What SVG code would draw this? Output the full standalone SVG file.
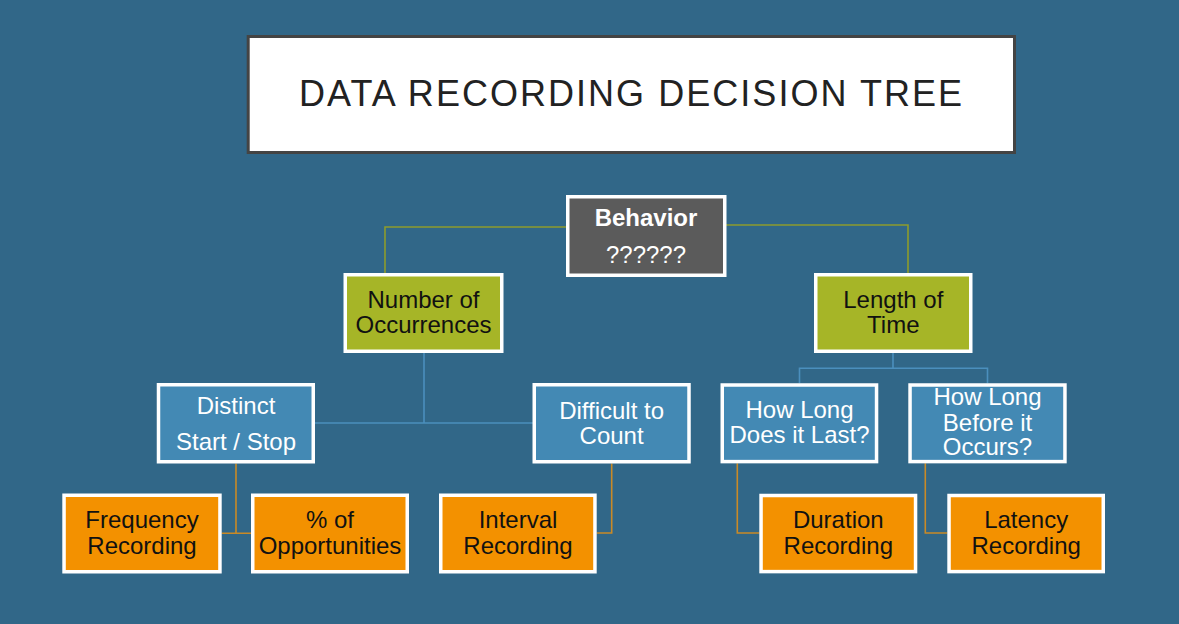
<svg xmlns="http://www.w3.org/2000/svg" width="1179" height="624" viewBox="0 0 1179 624">
<style>
.bg{fill:#316788}
.box{stroke:#ffffff;stroke-width:3.5}
.gray{fill:#5b5b5b}
.green{fill:#a6b527}
.blue{fill:#4389b4}
.orange{fill:#f39100}
.t{font-family:"Liberation Sans",Arial,sans-serif;font-size:24px;text-anchor:middle}
.dark{fill:#111111}
.light{fill:#ffffff}
.cg{stroke:#8d9c2c;stroke-width:1.6;fill:none}
.cb{stroke:#4b8fbd;stroke-width:1.6;fill:none}
.co{stroke:#c98a26;stroke-width:1.6;fill:none}
</style>
<rect class="bg" x="0" y="0" width="1179" height="624"/>
<g id="title">
<rect x="248.2" y="36.5" width="766.3" height="116" fill="#ffffff" stroke="#444444" stroke-width="3"/>
<text x="630.5" y="106" font-family="'Liberation Sans',Arial,sans-serif" font-size="36" fill="#222222" text-anchor="middle" textLength="663" lengthAdjust="spacing">DATA RECORDING DECISION TREE</text>
</g>
<g id="connectors">
<path class="cg" d="M566 227 H385 V273"/>
<path class="cg" d="M726 225 H908 V273"/>
<path class="cb" d="M424 353 V423"/>
<path class="cb" d="M315 423 H533"/>
<path class="cb" d="M893 353 V368.3 M799.5 383.3 V368.3 H987.5 V383.3"/>
<path class="co" d="M236 463.5 V533.3 M221.7 533.3 H251"/>
<path class="co" d="M611.7 463.5 V533 H596.7"/>
<path class="co" d="M737.3 463.3 V533 H759.3"/>
<path class="co" d="M925.3 463.3 V533 H947.3"/>
</g>
<g id="behavior">
<rect class="box gray" x="567.75" y="196.75" width="157" height="78.5"/>
<text class="t light" x="646" y="226" font-weight="bold">Behavior</text>
<text class="t light" x="646" y="263">??????</text>
</g>
<g id="number">
<rect class="box green" x="345.25" y="274.75" width="156.5" height="76.5"/>
<text class="t dark" x="423.5" y="308">Number of</text>
<text class="t dark" x="423.5" y="333">Occurrences</text>
</g>
<g id="length">
<rect class="box green" x="815.75" y="274.75" width="155" height="76.5"/>
<text class="t dark" x="893.3" y="308">Length of</text>
<text class="t dark" x="893.3" y="333">Time</text>
</g>
<g id="distinct">
<rect class="box blue" x="158.5" y="384.75" width="154.75" height="77"/>
<text class="t light" x="236" y="414">Distinct</text>
<text class="t light" x="236" y="450">Start / Stop</text>
</g>
<g id="difficult">
<rect class="box blue" x="534.25" y="384.75" width="154.75" height="77"/>
<text class="t light" x="611.6" y="419">Difficult to</text>
<text class="t light" x="611.6" y="444">Count</text>
</g>
<g id="howlast">
<rect class="box blue" x="722.25" y="385" width="154.3" height="76.6"/>
<text class="t light" x="799.5" y="418">How Long</text>
<text class="t light" x="799.5" y="443">Does it Last?</text>
</g>
<g id="howbefore">
<rect class="box blue" x="910.05" y="385" width="154.9" height="76.6"/>
<text class="t light" x="987.5" y="405">How Long</text>
<text class="t light" x="987.5" y="430.5">Before it</text>
<text class="t light" x="987.5" y="455">Occurs?</text>
</g>
<g id="frequency">
<rect class="box orange" x="64.05" y="495.25" width="155.9" height="76.5"/>
<text class="t dark" x="142" y="527.5">Frequency</text>
<text class="t dark" x="142" y="553.5">Recording</text>
</g>
<g id="percent">
<rect class="box orange" x="252.75" y="495.25" width="154.5" height="76.5"/>
<text class="t dark" x="330" y="528">% of</text>
<text class="t dark" x="330" y="554">Opportunities</text>
</g>
<g id="interval">
<rect class="box orange" x="440.75" y="495.25" width="154.2" height="76.5"/>
<text class="t dark" x="518" y="528">Interval</text>
<text class="t dark" x="518" y="554">Recording</text>
</g>
<g id="duration">
<rect class="box orange" x="761.05" y="495.5" width="154.5" height="76.1"/>
<text class="t dark" x="838.3" y="528">Duration</text>
<text class="t dark" x="838.3" y="554">Recording</text>
</g>
<g id="latency">
<rect class="box orange" x="949.05" y="495.5" width="154.2" height="76.1"/>
<text class="t dark" x="1026.2" y="528">Latency</text>
<text class="t dark" x="1026.2" y="554">Recording</text>
</g>
</svg>
